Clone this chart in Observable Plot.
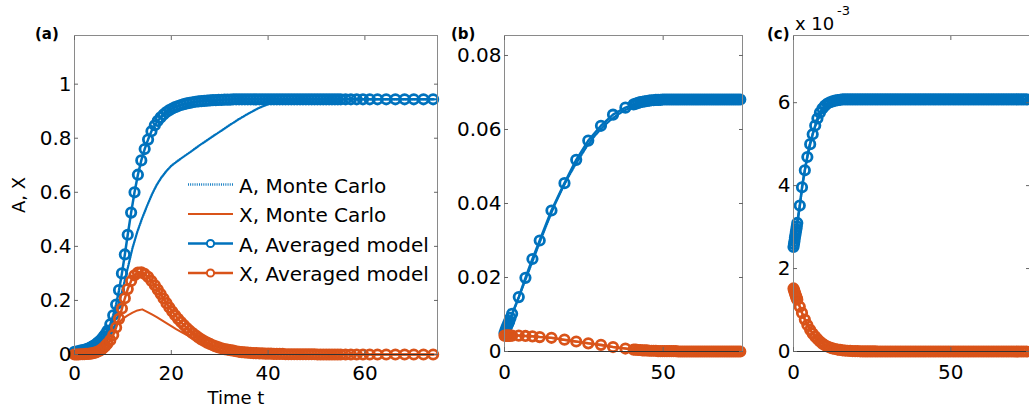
<!DOCTYPE html>
<html><head><meta charset="utf-8">
<script src="https://cdn.jsdelivr.net/npm/d3@7"></script>
<script src="https://cdn.jsdelivr.net/npm/@observablehq/plot@0.6"></script>
<style>
html,body{margin:0;padding:0;background:#fff;}
#wrap{position:relative;width:1029px;height:412px;overflow:hidden;background:#fff;}
.panel{position:absolute;top:0;height:412px;}
#overlay{position:absolute;left:0;top:0;pointer-events:none;}
</style></head><body>
<div id="wrap">
<div class="panel" id="pa" style="left:0;width:450px"></div>
<div class="panel" id="pb" style="left:450px;width:300px"></div>
<div class="panel" id="pc" style="left:770px;width:259px"></div>
<svg id="overlay" width="1029" height="412"></svg>
</div>
<script>
// ---------- labels ----------
const panelTags = ["(a)", "(b)", "(c)"];
const legendLabels = ["A, Monte Carlo", "X, Monte Carlo", "A, Averaged model", "X, Averaged model"];
const xTitle = "Time t";
const yTitle = "A, X";
const expBase = "x 10", expPower = "-3";

// ---------- panel (a) ----------
const xTicksA = [0, 20, 40, 60];
const yTicksA = [0, 0.2, 0.4, 0.6, 0.8, 1];
const tAvgA = [0,0.4,0.8,1.2,1.6,2,2.4,2.8,3.2,3.6,4,4.4,4.8,5.2,5.6,6,6.4,6.8,
  7.4,8,8.6,9.2,9.8,10.4,11,11.7,12.4,13.1,13.8,14.5,15.2,15.9,
  16.6,17.2,17.8,18.4,19,19.6,20.2,20.8,21.4,22,22.6,23.2,23.8,24.4,25,25.6,26.2,26.8,27.4,28,
  28.6,29.2,29.8,30.4,31,31.6,32.2,32.8,33.4,34,34.6,35.2,35.8,36.4,37,37.6,38.2,38.8,39.4,40,
  40.6,41.2,41.8,42.4,43,43.6,44.2,44.8,45.4,46,46.6,47.2,47.8,48.4,49,49.6,50.2,50.8,51.4,52,
  52.6,53.2,53.8,54.4,55,
  56,57.1,58.3,59.6,61,62.6,64.4,66.3,68.2,70.1,72.1,74.1];
const aAvgA = [0.010,0.011,0.012,0.014,0.015,0.017,0.019,0.022,0.025,0.029,0.033,0.038,0.044,0.050,0.057,0.066,0.076,0.088,
  0.112,0.145,0.185,0.238,0.300,0.370,0.443,0.525,0.600,0.665,0.718,0.760,0.795,0.826,
  0.848,0.864,0.877,0.888,0.897,0.904,0.910,0.915,0.919,0.923,0.926,0.929,0.931,0.933,0.935,0.936,0.937,0.938,0.939,0.940,
  0.941,0.941,0.942,0.942,0.943,0.943,0.943,0.944,0.944,0.944,0.944,0.944,0.944,0.944,0.944,0.944,0.944,0.944,0.944,0.944,
  0.944,0.944,0.944,0.944,0.944,0.944,0.944,0.944,0.944,0.944,0.944,0.944,0.944,0.944,0.944,0.944,0.944,0.944,0.944,0.944,
  0.944,0.944,0.944,0.944,0.944,
  0.944,0.944,0.944,0.944,0.944,0.944,0.944,0.944,0.944,0.944,0.944,0.944];
const xAvgA = [0,0,0,0.001,0.001,0.001,0.002,0.002,0.003,0.004,0.006,0.008,0.011,0.014,0.019,0.025,0.032,0.040,
  0.053,0.072,0.100,0.132,0.170,0.208,0.242,0.272,0.293,0.303,0.304,0.298,0.287,0.272,
  0.256,0.240,0.224,0.207,0.190,0.174,0.159,0.145,0.132,0.120,0.109,0.098,0.088,0.079,0.071,0.063,0.056,0.050,0.044,0.039,
  0.034,0.030,0.026,0.023,0.020,0.018,0.016,0.014,0.012,0.010,0.009,0.008,0.007,0.006,0.005,0.005,0.004,0.004,0.003,0.003,
  0.003,0.002,0.002,0.002,0.002,0.001,0.001,0.001,0.001,0.001,0.001,0.001,0.001,0.001,0.001,0.001,0,0,0,0,
  0,0,0,0,0,
  0,0,0,0,0,0,0,0,0,0,0,0];
const tMcA = [0,2,4,5,6,7,8,9,10,11,12,13,14,15,16,17,18,19,20,21,22,24,26,28,30,32,34,36,38,40,42,44,46,48,50,55,60,65,70,75];
const aMcA = [0.010,0.014,0.028,0.040,0.058,0.085,0.125,0.180,0.245,0.320,0.395,0.455,0.505,0.550,0.592,0.628,0.656,0.679,0.698,0.712,
  0.725,0.750,0.776,0.800,0.824,0.848,0.871,0.892,0.911,0.926,0.936,0.941,0.943,0.944,0.944,0.944,0.944,0.944,0.944,0.944];
const xMcA = [0,0.001,0.005,0.012,0.030,0.060,0.090,0.115,0.133,0.145,0.155,0.163,0.167,0.158,0.148,0.138,0.127,0.116,0.105,0.094,
  0.084,0.064,0.046,0.033,0.026,0.024,0.020,0.014,0.010,0.007,0.005,0.004,0.003,0.002,0.001,0.0005,0,0,0,0];

// ---------- panel (b) ----------
const xTicksB = [0, 50];
const yTicksB = [0, 0.02, 0.04, 0.06, 0.08];
const tAvgB = [0,0.3,0.6,0.9,1.2,1.5,1.9,2.4,
  4.5,6.6,8.8,11.1,14.8,18.9,22.6,26.4,30.4,34.2,38.1,
  40.7,41.4,42.1,42.8,43.5,44.2,44.9,45.6,46.3,47,47.7,48.4,49.1,49.8,50.5,51.2,51.9,52.6,53.3,54,
  54.7,55.4,56.1,56.8,57.5,58.2,58.9,59.6,60.3,61,61.7,62.4,63.1,63.8,64.5,65.2,65.9,66.6,67.3,68,
  68.7,69.4,70.1,70.8,71.5,72.2,72.9,73.6,74.3];
const aAvgB = [0.0050,0.0057,0.0064,0.0070,0.0076,0.0082,0.0091,0.0102,
  0.0147,0.0199,0.0250,0.0300,0.0381,0.0455,0.0518,0.0570,0.0610,0.0640,0.0659,
  0.0668,0.0670,0.0672,0.0674,0.0675,0.0676,0.0677,0.0678,0.0679,0.0679,0.0680,0.0680,0.0680,0.0681,0.0681,0.0681,0.0681,0.0681,0.0681,0.0681,
  0.0681,0.0681,0.0681,0.0681,0.0681,0.0681,0.0681,0.0681,0.0681,0.0681,0.0681,0.0681,0.0681,0.0681,0.0681,0.0681,0.0681,0.0681,0.0681,0.0681,
  0.0681,0.0681,0.0681,0.0681,0.0681,0.0681,0.0681,0.0681,0.0681];
const xAvgB = [0.0043,0.0043,0.0043,0.0043,0.0043,0.0043,0.0043,0.0043,
  0.0043,0.0042,0.0041,0.0039,0.0037,0.0032,0.0027,0.0022,0.0018,0.0012,0.0008,
  0.0005,0.0005,0.0004,0.0004,0.0003,0.0003,0.0003,0.0002,0.0002,0.0002,0.0002,0.0001,0.0001,0.0001,0.0001,0.0001,0.0001,0.0001,0.0001,0.0001,
  0,0,0,0,0,0,0,0,0,0,0,0,0,0,0,0,0,0,0,0,
  0,0,0,0,0,0,0,0,0];
const tMcB = [0,2,4,6,8,10,12,14,16,18,20,22,24,26,28,30,32,34,36,38,40,42,44,46,48,50,55,60,65,70,75];
const aMcB = [0.0050,0.0090,0.0135,0.0180,0.0225,0.0270,0.0315,0.0358,0.0400,0.0436,0.0470,0.0500,0.0528,0.0555,0.0578,0.0598,
  0.0615,0.0630,0.0642,0.0652,0.0660,0.0666,0.0671,0.0675,0.0677,0.0679,0.0680,0.0681,0.0681,0.0681,0.0681];
const xMcB = [0.0043,0.0043,0.0043,0.0042,0.0041,0.0040,0.0039,0.0037,0.0035,0.0032,0.0030,0.0027,0.0025,0.0022,0.0020,0.0017,
  0.0015,0.0012,0.0010,0.0008,0.0006,0.0004,0.0003,0.0002,0.0002,0.0001,0.0001,0,0,0,0];

// ---------- panel (c), values in units of 10^-3 ----------
const xTicksC = [0, 50];
const yTicksC = [0, 2, 4, 6];
const tAvgC = [0,0.15,0.3,0.45,0.6,0.75,0.9,1.05,1.2,
  2,2.7,3.6,4.4,5.3,6.1,6.9,7.6,
  8.4,9.2,10,10.8,11.6,12.4,13.2,14,14.8,15.6,16.4,17.2,18,18.8,19.6,20.4,21.2,22,22.8,23.6,
  24.4,25.2,26,26.8,27.6,28.4,29.2,30,30.8,31.6,32.4,33.2,34,34.8,35.6,36.4,37.2,38,38.8,39.6,
  40.4,41.2,42,42.8,43.6,44.4,45.2,46,46.8,47.6,48.4,49.2,50,50.8,51.6,52.4,53.2,54,54.8,55.6,
  56.4,57.2,58,58.8,59.6,60.4,61.2,62,62.8,63.6,64.4,65.2,66,66.8,67.6,68.4,69.2,70,70.8,71.6,
  72.4,73.2,74];
const aAvgC = [2.52,2.59,2.66,2.74,2.81,2.88,2.95,3.02,3.10,
  3.52,3.96,4.37,4.69,5.00,5.24,5.45,5.62,
  5.76,5.86,5.93,5.98,6.01,6.03,6.05,6.06,6.07,6.08,6.08,6.08,6.08,6.08,6.08,6.08,6.08,6.08,6.08,6.08,
  6.08,6.08,6.08,6.08,6.08,6.08,6.08,6.08,6.08,6.08,6.08,6.08,6.08,6.08,6.08,6.08,6.08,6.08,6.08,6.08,
  6.08,6.08,6.08,6.08,6.08,6.08,6.08,6.08,6.08,6.08,6.08,6.08,6.08,6.08,6.08,6.08,6.08,6.08,6.08,6.08,
  6.08,6.08,6.08,6.08,6.08,6.08,6.08,6.08,6.08,6.08,6.08,6.08,6.08,6.08,6.08,6.08,6.08,6.08,6.08,6.08,
  6.08,6.08,6.08];
const xAvgC = [1.52,1.48,1.45,1.41,1.38,1.34,1.31,1.28,1.25,
  1.08,0.93,0.77,0.64,0.52,0.43,0.36,0.30,
  0.24,0.19,0.15,0.12,0.095,0.075,0.06,0.047,0.037,0.029,0.023,0.018,0.014,0.011,0.009,0.007,0.005,0.004,0.003,0.002,
  0.002,0.001,0.001,0,0,0,0,0,0,0,0,0,0,0,0,0,0,0,0,0,
  0,0,0,0,0,0,0,0,0,0,0,0,0,0,0,0,0,0,0,0,
  0,0,0,0,0,0,0,0,0,0,0,0,0,0,0,0,0,0,0,0,
  0,0,0];
const tMcC = [0,1,2,3,4,5,6,7,8,9,10,12,14,16,18,20,25,30,40,50,60,75];
const aMcC = [2.52,3.00,3.50,4.10,4.55,4.95,5.22,5.45,5.63,5.77,5.88,6.00,6.05,6.07,6.08,6.08,6.08,6.08,6.08,6.08,6.08,6.08];
const xMcC = [1.52,1.30,1.08,0.88,0.71,0.56,0.45,0.36,0.28,0.22,0.16,0.09,0.05,0.03,0.015,0.008,0.002,0,0,0,0,0];

// ---------- drawing ----------
const BLUE = "#0072BD", ORANGE = "#D95319";
const FONT = '"DejaVu Sans", sans-serif';
const DOTTED = "0.9,1.3";

function rows(t, a, x) {
  const n = Math.min(t.length, a.length, x.length);
  return d3.range(n).map(i => ({t: t[i], a: a[i], x: x[i]}));
}

function panel(el, o) {
  const avg = rows(o.tAvg, o.aAvg, o.xAvg);
  const mc = rows(o.tMc, o.aMc, o.xMc);
  const svg = Plot.plot({
    width: o.width, height: 412,
    marginLeft: o.ml, marginRight: o.mr, marginTop: 35, marginBottom: o.mb,
    style: {fontFamily: FONT, fontSize: "20px", color: "#000", background: "transparent", overflow: "visible"},
    x: {domain: [0, 75], axis: null},
    y: {domain: o.yDomain, axis: null},
    marks: [
      Plot.line(mc, {x: "t", y: "a", stroke: BLUE, strokeWidth: 2.3, strokeDasharray: DOTTED}),
      Plot.line(mc, {x: "t", y: "x", stroke: ORANGE, strokeWidth: 2}),
      Plot.line(avg, {x: "t", y: "a", stroke: BLUE, strokeWidth: 2.5}),
      Plot.dot(avg, {x: "t", y: "a", r: 4.7, stroke: BLUE, strokeWidth: 2.8, fill: "none"}),
      Plot.line(avg, {x: "t", y: "x", stroke: ORANGE, strokeWidth: 2.5}),
      Plot.dot(avg, {x: "t", y: "x", r: 4.7, stroke: ORANGE, strokeWidth: 2.8, fill: "none"}),
      Plot.frame({stroke: "#8a8a8a"}),
      Plot.ruleY([0], {stroke: "#333"}),
      Plot.axisX({anchor: "bottom", ticks: o.xTicks, tickSize: -4, tickPadding: o.xPad, tickFormat: d => String(d), label: null, stroke: "#666", fill: "#000"}),
      Plot.axisX({anchor: "top", ticks: o.xTicks, tickSize: -4, label: null, stroke: "#666", fill: "none"}),
      Plot.axisY({anchor: "left", ticks: o.yTicks, tickSize: -4, tickPadding: 7, tickFormat: d => String(d), label: null, stroke: "#666", fill: "#000"}),
      Plot.axisY({anchor: "right", ticks: o.yTicks, tickSize: -4, label: null, stroke: "#666", fill: "none"})
    ]
  });
  el.appendChild(svg);
}

panel(document.getElementById("pa"), {tAvg: tAvgA, aAvg: aAvgA, xAvg: xAvgA, tMc: tMcA, aMc: aMcA, xMc: xMcA,
  width: 450, ml: 74, mr: 13, mb: 58, yDomain: [0, 1.18], xTicks: xTicksA, yTicks: yTicksA, xPad: 15});
panel(document.getElementById("pb"), {tAvg: tAvgB, aAvg: aAvgB, xAvg: xAvgB, tMc: tMcB, aMc: aMcB, xMc: xMcB,
  width: 300, ml: 54, mr: 8, mb: 61, yDomain: [0, 0.0854], xTicks: xTicksB, yTicks: yTicksB, xPad: 17});
panel(document.getElementById("pc"), {tAvg: tAvgC, aAvg: aAvgC, xAvg: xAvgC, tMc: tMcC, aMc: aMcC, xMc: xMcC,
  width: 259, ml: 23, mr: 0, mb: 61, yDomain: [0, 7.62], xTicks: xTicksC, yTicks: yTicksC, xPad: 17});

// ---------- overlay text & legend ----------
const ov = d3.select("#overlay");
function txt(x, y, s, attrs) {
  const t = ov.append("text").attr("x", x).attr("y", y).attr("font-family", FONT).attr("fill", "#000").text(s);
  for (const k in attrs) t.attr(k, attrs[k]);
  return t;
}
const tagX = [35, 451, 767];
panelTags.forEach((s, i) => txt(tagX[i], 39, s, {"font-size": 15, "font-weight": "bold"}));
txt(795, 30, expBase, {"font-size": 18});
txt(837, 15, expPower, {"font-size": 13});
txt(236, 404, xTitle, {"font-size": 18, "text-anchor": "middle"});
txt(0, 0, yTitle, {"font-size": 18, "text-anchor": "middle", transform: "translate(25,195) rotate(-90)"});

const legY = [184.5, 214, 243.5, 273];
const legStyle = [
  {c: BLUE, dash: DOTTED, w: 2.3, m: false},
  {c: ORANGE, dash: null, w: 2, m: false},
  {c: BLUE, dash: null, w: 2.6, m: true},
  {c: ORANGE, dash: null, w: 2.6, m: true}
];
legendLabels.forEach((s, i) => {
  const st = legStyle[i];
  const l = ov.append("line").attr("x1", 188).attr("x2", 233).attr("y1", legY[i]).attr("y2", legY[i])
    .attr("stroke", st.c).attr("stroke-width", st.w);
  if (st.dash) l.attr("stroke-dasharray", st.dash);
  if (st.m) ov.append("circle").attr("cx", 210.5).attr("cy", legY[i]).attr("r", 3.6)
    .attr("fill", "#fff").attr("stroke", st.c).attr("stroke-width", 2);
  txt(239, legY[i] + 8, s, {"font-size": 20});
});
</script>
</body></html>
